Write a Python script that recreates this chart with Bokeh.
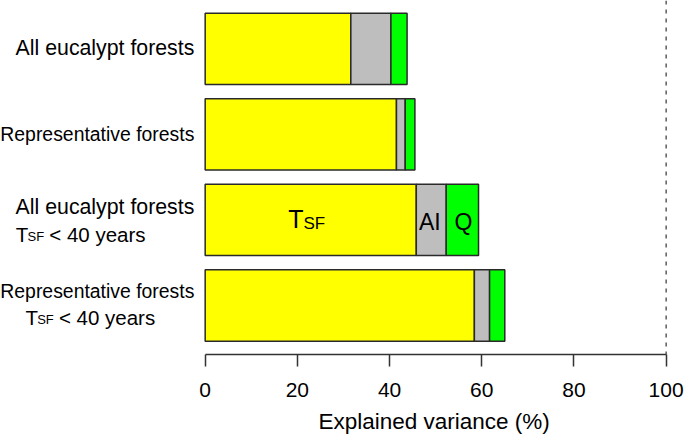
from bokeh.plotting import figure
from bokeh.models import Range1d, Label, Span, ColumnDataSource, FixedTicker, Title
from bokeh.embed import file_html
from bokeh.resources import INLINE

# ---- data ----
categories = ["All eucalypt forests", "Representative forests",
              "All eucalypt forests", "Representative forests"]
second_line = [False, False, True, True]   # rows that carry "T_SF < 40 years"
tsf = [31.6, 41.5, 45.8, 58.4]
ai = [8.7, 1.9, 6.5, 3.3]
q = [3.5, 2.1, 7.0, 3.3]
ticks = [0, 20, 40, 60, 80, 100]

FONT = "Liberation Sans"
n = len(categories)
ys = [n - i for i in range(n)]
left_ai = tsf
right_ai = [a + b for a, b in zip(tsf, ai)]
right_q = [a + b for a, b in zip(right_ai, q)]

p = figure(width=685, height=440, output_backend="svg", toolbar_location=None,
           x_range=Range1d(-44.4, 104.2), y_range=Range1d(0.4264, 4.5655),
           min_border_left=0, min_border_right=0, min_border_top=0,
           min_border_bottom=85)
p.outline_line_color = None
p.grid.visible = False
p.yaxis.visible = False

src = ColumnDataSource(dict(y=ys, tsf=tsf, lai=left_ai, rai=right_ai, rq=right_q))
lc = "#2a2a2a"
p.hbar(y="y", left=0, right="tsf", height=0.835, source=src,
       fill_color="#FFFF00", line_color=lc, line_width=1.5)
p.hbar(y="y", left="lai", right="rai", height=0.835, source=src,
       fill_color="#BEBEBE", line_color=lc, line_width=1.5)
p.hbar(y="y", left="rai", right="rq", height=0.835, source=src,
       fill_color="#00FF00", line_color=lc, line_width=1.5)

p.add_layout(Span(location=100, dimension="height", line_color="#444444",
                  line_width=1.3, line_dash="4 5"))

ax = p.xaxis[0]
ax.ticker = FixedTicker(ticks=ticks)
ax.bounds = (0, 100)
ax.axis_line_color = "#333333"
ax.axis_line_width = 1.5
ax.major_tick_line_color = "#333333"
ax.major_tick_line_width = 1.5
ax.major_tick_out = 12
ax.major_tick_in = 0
ax.minor_tick_line_color = None
ax.major_label_text_font = FONT
ax.major_label_text_font_size = "21px"
ax.major_label_text_color = "black"
ax.major_label_standoff = 16

p.add_layout(Title(text="Explained variance (%)", align="left", offset=318,
                   text_font=FONT, text_font_size="22.5px", text_font_style="normal",
                   text_color="black", standoff=14), "below")

SH = 7.5  # vertical correction for label baseline (screen px)

# left-hand category labels (positioned with screen offsets around each bar centre)
X_RIGHT = -2.35  # data x for right edge of first line
for i, (cat, two) in enumerate(zip(categories, second_line)):
    y = ys[i]
    big = cat.startswith("All")
    fs = "21.3px" if big else "19.4px"
    if not two:
        p.add_layout(Label(x=X_RIGHT, y=y, y_offset=-7 + SH, text=cat, text_align="right",
                           text_baseline="alphabetic", text_font=FONT,
                           text_font_size=fs, text_color="black"))
    else:
        p.add_layout(Label(x=X_RIGHT, y=y, y_offset=(5.3 if big else 6.8) + SH, text=cat,
                           text_align="right", text_baseline="alphabetic",
                           text_font=FONT, text_font_size=fs, text_color="black"))
        x0 = -41.1 if big else -39.0
        yo = (-22 if big else -19.2) + SH
        p.add_layout(Label(x=x0, y=y, y_offset=yo, text="T", text_align="left",
                           text_baseline="alphabetic", text_font=FONT,
                           text_font_size="20.5px", text_color="black"))
        p.add_layout(Label(x=x0, y=y, x_offset=11.8, y_offset=yo - 2.5, text="SF",
                           text_align="left", text_baseline="alphabetic",
                           text_font=FONT, text_font_size="13px", text_color="black"))
        p.add_layout(Label(x=x0, y=y, x_offset=33.5, y_offset=yo, text="< 40 years",
                           text_align="left", text_baseline="alphabetic",
                           text_font=FONT, text_font_size="20.5px", text_color="black"))

# in-bar labels on the third bar
k = 2
yk = ys[k]
p.add_layout(Label(x=tsf[k] / 2, y=yk, x_offset=-7.3, y_offset=-6.5 + SH, text="T",
                   text_align="right", text_baseline="alphabetic", text_font=FONT,
                   text_font_size="25px", text_color="black"))
p.add_layout(Label(x=tsf[k] / 2, y=yk, x_offset=-7.3, y_offset=-11.5 + SH, text="SF",
                   text_align="left", text_baseline="alphabetic", text_font=FONT,
                   text_font_size="17px", text_color="black"))
p.add_layout(Label(x=(left_ai[k] + right_ai[k]) / 2, y=yk, x_offset=-1.5,
                   y_offset=-9.5 + SH, text="AI", text_align="center",
                   text_baseline="alphabetic", text_font=FONT, text_font_size="23px",
                   text_color="black"))
p.add_layout(Label(x=(right_ai[k] + right_q[k]) / 2, y=yk, x_offset=1,
                   y_offset=-9.5 + SH, text="Q", text_align="center",
                   text_baseline="alphabetic", text_font=FONT, text_font_size="23px",
                   text_color="black"))

open("out.html", "w").write(file_html(p, INLINE))
